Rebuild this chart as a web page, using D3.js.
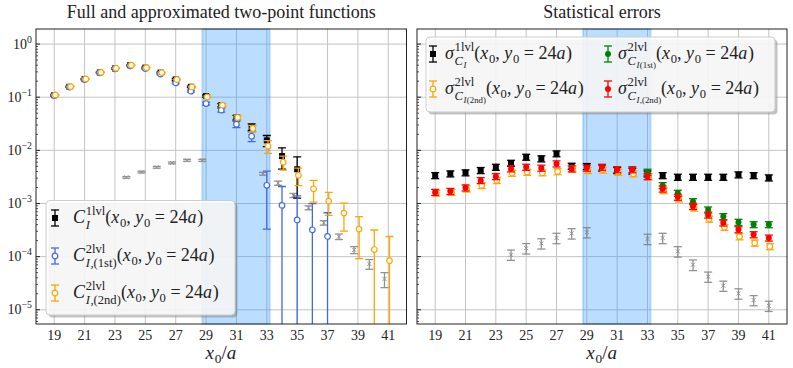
<!DOCTYPE html>
<html>
<head>
<meta charset="utf-8">
<script src="https://cdn.jsdelivr.net/npm/d3@7"></script>
<style>
body{margin:0;background:#fff;}
text{font-family:"Liberation Serif","DejaVu Serif",serif;fill:#222;white-space:pre;}
</style>
</head>
<body>
<script>
//x0/a values
var xs = [19,20,21,22,23,24,25,26,27,28,29,30,31,32,33,34,35,36,37,38,39,40,41];
var xTicks = [19,21,23,25,27,29,31,33,35,37,39,41];
var yTicks = [1e-5,1e-4,1e-3,1e-2,1e-1,1];
var yTickExp = ["\u22125","\u22124","\u22123","\u22122","\u22121","0"];
var band = [28.75, 33.2];

//left panel: full and approximated two-point functions
var c1lvl = [0.109,0.157,0.219,0.292,0.348,0.40,0.36,0.29,0.216,0.157,0.105,0.0707,0.0414,0.0275,0.0154,0.0078,0.0044,null,null,null,null,null,null];
var c2lvl1st = [0.107,0.155,0.215,0.288,0.343,0.39,0.345,0.272,0.186,0.130,0.076,0.057,0.031,0.0184,0.0022,0.00092,0.00049,0.00032,0.00024,null,null,null,null];
var c2lvl1stErr = [0.003,0.0035,0.0038,0.0042,0.0048,0.0057,0.0072,0.007,0.0085,0.0055,0.005,0.0048,0.0043,0.0038,0.00187,0.00117,0.0009,0.00067,0.00043,null,null,null,null];
var c2lvl2nd = [0.11,0.158,0.22,0.293,0.35,0.40,0.36,0.29,0.215,0.156,0.101,0.0707,0.0414,0.0258,0.0120,0.0060,0.0034,0.00189,0.00111,0.00066,0.00033,0.000136,0.000084];
var cDiff = [null,null,null,null,null,3.1e-3,3.9e-3,4.8e-3,5.8e-3,6.5e-3,6.5e-3,null,null,null,3.63e-3,2.42e-3,1.42e-3,8.3e-4,4.33e-4,2.38e-4,1.34e-4,7.3e-5,3.8e-5];

//right panel: statistical errors (also the error bars of the left panel)
var sig1lvl = [3.37e-3,3.63e-3,3.8e-3,4.2e-3,4.84e-3,5.75e-3,7.48e-3,6.97e-3,8.66e-3,5.06e-3,4.99e-3,4.7e-3,4.2e-3,4.1e-3,3.63e-3,3.37e-3,3.14e-3,3.14e-3,3.14e-3,3.14e-3,3.48e-3,3.37e-3,3.05e-3];
var sig1lvlErr = [4.4e-4,4.7e-4,4.9e-4,5.5e-4,6.3e-4,7.5e-4,9.7e-4,9.1e-4,1.1e-3,6.6e-4,6.5e-4,6.1e-4,5.5e-4,5.3e-4,4.7e-4,4.4e-4,4.1e-4,4.1e-4,4.1e-4,4.1e-4,4.5e-4,4.4e-4,4.0e-4];
var sig2nd = [1.57e-3,1.63e-3,1.89e-3,2.19e-3,2.72e-3,3.73e-3,3.9e-3,3.8e-3,4.0e-3,4.5e-3,4.2e-3,4.3e-3,3.9e-3,3.63e-3,3.2e-3,1.76e-3,1.23e-3,8.3e-4,5.1e-4,3.57e-4,2.38e-4,1.81e-4,1.55e-4];
var sig2ndErr = [2.0e-4,2.1e-4,2.5e-4,2.8e-4,3.5e-4,4.8e-4,5.1e-4,4.9e-4,5.2e-4,5.9e-4,5.5e-4,5.6e-4,5.1e-4,4.7e-4,4.2e-4,2.3e-4,1.6e-4,1.1e-4,6.6e-5,4.6e-5,3.1e-5,2.4e-5,2.0e-5];
var sig1st = [null,null,null,null,null,null,null,null,null,null,null,null,null,null,3.9e-3,2.19e-3,1.57e-3,1.09e-3,7.6e-4,5.69e-4,4.45e-4,4.02e-4,4.02e-4];
var sig1stErr = [null,null,null,null,null,null,null,null,null,null,null,null,null,null,5.1e-4,2.8e-4,2.0e-4,1.4e-4,9.9e-5,7.4e-5,5.8e-5,5.2e-5,5.2e-5];
var sigI2nd = [1.63e-3,1.7e-3,1.98e-3,2.72e-3,3.23e-3,4.52e-3,4.84e-3,4.65e-3,5.6e-3,4.52e-3,4.65e-3,4.84e-3,4.35e-3,4.35e-3,3.23e-3,1.89e-3,1.32e-3,8.9e-4,6.1e-4,4.33e-4,3.23e-4,2.6e-4,2.25e-4];
var sigI2ndErr = [2.1e-4,2.2e-4,2.6e-4,3.5e-4,4.2e-4,5.9e-4,6.3e-4,6.0e-4,7.3e-4,5.9e-4,6.0e-4,6.3e-4,5.7e-4,5.7e-4,4.2e-4,2.5e-4,1.7e-4,1.2e-4,7.9e-5,5.6e-5,4.2e-5,3.4e-5,2.9e-5];
var sigDiff = [null,null,null,null,null,1.09e-4,1.44e-4,1.78e-4,2.25e-4,2.75e-4,2.88e-4,null,null,null,2.16e-4,2.25e-4,1.26e-4,7.06e-5,4.2e-5,2.84e-5,2.03e-5,1.52e-5,1.19e-5];
var sigDiffErr = [null,null,null,null,null,2.4e-5,3.2e-5,3.9e-5,5.0e-5,6.1e-5,6.3e-5,null,null,null,4.8e-5,5.0e-5,2.8e-5,1.6e-5,9.2e-6,6.2e-6,4.5e-6,3.3e-6,2.6e-6];

(function(){

    var width = 793, height = 368, plotTop = 29, plotBottom = 324;

    var svg = d3.select("body").append("svg")
        .attr("width", width)
        .attr("height", height)
        .attr("font-family", "'Liberation Serif', 'DejaVu Serif', serif");

    //math text helpers: italic / roman pieces, sup/sub pairs
    function I(t){ return {t:t, i:true}; }
    function R(t){ return {t:t}; }
    function SS(sup, sub){ return {sup:sup, sub:sub}; }

    function mathText(g, x, y, parts, size){
        parts.forEach(function(p){
            if (p.sup || p.sub){
                var both = p.sup && p.sub;
                var w1 = p.sup ? mathText(g, x, y - size*(both ? 0.45 : 0.42), p.sup, size*0.7) - x : 0;
                var w2 = p.sub ? mathText(g, x, y + size*(both ? 0.32 : 0.22), p.sub, size*0.7) - x : 0;
                x += Math.max(w1, w2);
            } else {
                var t = g.append("text")
                    .attr("x", x)
                    .attr("y", y)
                    .attr("font-size", size)
                    .style("font-style", p.i ? "italic" : "normal")
                    .text(p.t);
                x += t.node().getComputedTextLength() + (p.i ? size*0.04 : 0);
            }
        });
        return x;
    }

    var tail = [R("("), I("x"), SS(null,[R("0")]), R(", "), I("y"), SS(null,[R("0")]), R(" = 24"), I("a"), R(")")];

    //set up one panel with grid, band and frame
    function makePanel(x0, x1, id, labels){
        var x = d3.scaleLinear().domain([17.8, 42.2]).range([x0, x1]);
        var y = d3.scaleLog().domain([5.4e-6, 1.92]).range([plotBottom, plotTop]);
        var g = svg.append("g");

        svg.append("clipPath").attr("id", id)
            .append("rect").attr("x", x0).attr("y", plotTop).attr("width", x1 - x0).attr("height", plotBottom - plotTop);

        //grid
        g.selectAll(".vg").data(xTicks).enter().append("line")
            .attr("x1", function(d){ return x(d); }).attr("x2", function(d){ return x(d); })
            .attr("y1", plotTop).attr("y2", plotBottom)
            .attr("stroke", "#c4c4c4").attr("stroke-width", 1);
        g.selectAll(".hg").data(yTicks).enter().append("line")
            .attr("x1", x0).attr("x2", x1)
            .attr("y1", function(d){ return y(d); }).attr("y2", function(d){ return y(d); })
            .attr("stroke", "#c4c4c4").attr("stroke-width", 1);

        //fit window band
        g.append("rect")
            .attr("x", x(band[0])).attr("y", plotTop)
            .attr("width", x(band[1]) - x(band[0])).attr("height", plotBottom - plotTop)
            .attr("fill", "dodgerblue").attr("fill-opacity", 0.3)
            .attr("stroke", "dodgerblue").attr("stroke-opacity", 0.25).attr("stroke-width", 2);

        var plot = svg.append("g").attr("clip-path", "url(#" + id + ")");

        //y ticks (inward, major + minor)
        var minor = [];
        yTicks.forEach(function(d){
            for (var k=2; k<10; k++){ if (d*k < 1.92) minor.push(d*k); }
        });
        minor.push(9e-6, 8e-6, 7e-6, 6e-6);
        var ax = svg.append("g");
        ax.selectAll(".mt").data(yTicks).enter().append("line")
            .attr("x1", x0).attr("x2", x0 + 4)
            .attr("y1", function(d){ return y(d); }).attr("y2", function(d){ return y(d); })
            .attr("stroke", "#222");
        ax.selectAll(".nt").data(minor).enter().append("line")
            .attr("x1", x0).attr("x2", x0 + 2)
            .attr("y1", function(d){ return y(d); }).attr("y2", function(d){ return y(d); })
            .attr("stroke", "#222").attr("stroke-width", 0.8);

        //frame
        ax.append("rect")
            .attr("x", x0).attr("y", plotTop).attr("width", x1 - x0).attr("height", plotBottom - plotTop)
            .attr("fill", "none").attr("stroke", "#222").attr("stroke-width", 1);

        //x tick labels
        ax.selectAll(".xl").data(xTicks).enter().append("text")
            .attr("x", function(d){ return x(d); })
            .attr("y", plotBottom + 16)
            .attr("text-anchor", "middle")
            .attr("font-size", 14)
            .text(function(d){ return d; });

        //y tick labels
        if (labels){
            yTicks.forEach(function(d, i){
                var lg = ax.append("g");
                var w = mathText(lg, 0, 0, [R("10"), SS([R(yTickExp[i])], null)], 14);
                lg.attr("transform", "translate(" + (x0 - 4 - w) + "," + (y(d) + 4.5) + ")");
            });
        }

        //x axis label
        var xg = ax.append("g");
        var xw = mathText(xg, 0, 0, [I("x"), SS(null,[R("0")]), R("/"), I("a")], 19);
        xg.attr("transform", "translate(" + ((x0 + x1)/2 - xw/2) + "," + (plotBottom + 35) + ")");

        return {x:x, y:y, plot:plot};
    }

    //draw error bar series
    function errSeries(p, vals, errs, dx, color, marker, op){
        var pts = [];
        vals.forEach(function(v, i){
            if (v != null) pts.push({x:xs[i] + dx, v:v, e:errs[i] || 0});
        });
        var g = p.plot.append("g").attr("opacity", op || 1);
        var yB = plotBottom + 5;
        var sel = g.selectAll("g").data(pts).enter().append("g")
            .attr("transform", function(d){ return "translate(" + p.x(d.x) + ",0)"; });
        sel.append("line")
            .attr("y1", function(d){ return d.v - d.e > 0 ? p.y(d.v - d.e) : yB; })
            .attr("y2", function(d){ return p.y(d.v + d.e); })
            .attr("stroke", color).attr("stroke-width", 1.3);
        sel.append("line")
            .attr("x1", -4).attr("x2", 4)
            .attr("y1", function(d){ return p.y(d.v + d.e); })
            .attr("y2", function(d){ return p.y(d.v + d.e); })
            .attr("stroke", color).attr("stroke-width", 1.3);
        sel.filter(function(d){ return d.v - d.e > 0; }).append("line")
            .attr("x1", -4).attr("x2", 4)
            .attr("y1", function(d){ return p.y(d.v - d.e); })
            .attr("y2", function(d){ return p.y(d.v - d.e); })
            .attr("stroke", color).attr("stroke-width", 1.3);
        drawMarker(sel, function(d){ return p.y(d.v); }, color, marker);
    }

    function drawMarker(sel, yf, color, marker){
        if (marker == "s"){
            sel.append("rect")
                .attr("x", -3).attr("y", function(d){ return yf(d) - 3; })
                .attr("width", 6).attr("height", 6).attr("fill", color);
        } else if (marker == "o"){
            sel.append("circle").attr("cx", 0).attr("cy", yf).attr("r", 2.8)
                .attr("fill", "#fff").attr("stroke", color).attr("stroke-width", 1.2);
        } else if (marker == "O"){
            sel.append("circle").attr("cx", 0).attr("cy", yf).attr("r", 3)
                .attr("fill", color);
        } else if (marker == "x"){
            sel.append("path")
                .attr("d", function(d){ var c = yf(d); return "M-2," + (c-2) + "L2," + (c+2) + "M-2," + (c+2) + "L2," + (c-2); })
                .attr("stroke", color).attr("stroke-width", 1);
        }
    }

    //legend box with entries
    function legend(x, y, w, h, entries, size){
        svg.append("rect").attr("x", x + 2.5).attr("y", y + 2.5).attr("width", w).attr("height", h)
            .attr("rx", 4).attr("fill", "#777").attr("fill-opacity", 0.45);
        svg.append("rect").attr("x", x).attr("y", y).attr("width", w).attr("height", h)
            .attr("rx", 4).attr("fill", "#fff").attr("fill-opacity", 0.85)
            .attr("stroke", "#ccc").attr("stroke-width", 1);
        entries.forEach(function(e){
            var hg = svg.append("g").datum(e).attr("transform", "translate(" + e.hx + ",0)");
            hg.append("line").attr("y1", e.cy - 8).attr("y2", e.cy + 8).attr("stroke", e.color).attr("stroke-width", 1.3);
            hg.append("line").attr("x1", -4).attr("x2", 4).attr("y1", e.cy - 8).attr("y2", e.cy - 8).attr("stroke", e.color).attr("stroke-width", 1.3);
            hg.append("line").attr("x1", -4).attr("x2", 4).attr("y1", e.cy + 8).attr("y2", e.cy + 8).attr("stroke", e.color).attr("stroke-width", 1.3);
            drawMarker(hg, function(d){ return d.cy; }, e.color, e.marker);
            mathText(svg.append("g"), e.tx, e.cy + 5, e.label, size);
        });
    }

    //left panel
    var L = makePanel(36, 406.5, "clipL", true);
    errSeries(L, cDiff, sigDiff, -0.25, "#808080", "x", 0.85);
    errSeries(L, c1lvl, sig1lvl, 0, "#000", "s");
    errSeries(L, c2lvl1st, c2lvl1stErr, 0, "royalblue", "o");
    errSeries(L, c2lvl2nd, sig2nd, 0.08, "orange", "o");

    //right panel
    var Rp = makePanel(417, 787, "clipR", false);
    errSeries(Rp, sigDiff, sigDiffErr, 0, "#808080", "x", 0.85);
    errSeries(Rp, sig1lvl, sig1lvlErr, 0, "#000", "s");
    errSeries(Rp, sig2nd, sig2ndErr, 0.07, "orange", "o");
    errSeries(Rp, sig1st, sig1stErr, 0, "green", "O");
    errSeries(Rp, sigI2nd, sigI2ndErr, 0, "red", "O");

    //titles
    svg.append("text").attr("x", (36 + 406.5)/2).attr("y", 18).attr("text-anchor", "middle")
        .attr("font-size", 18).text("Full and approximated two-point functions");
    svg.append("text").attr("x", (417 + 787)/2).attr("y", 18).attr("text-anchor", "middle")
        .attr("font-size", 18).text("Statistical errors");

    //legends
    legend(46, 200.5, 189, 114.5, [
        {hx:55, tx:73, cy:218, color:"#000", marker:"s", label:[I("C"), SS([R("1lvl")],[I("I")])].concat(tail)},
        {hx:55, tx:73, cy:256, color:"royalblue", marker:"o", label:[I("C"), SS([R("2lvl")],[I("I"), R(",(1st)")])].concat(tail)},
        {hx:55, tx:73, cy:293, color:"orange", marker:"o", label:[I("C"), SS([R("2lvl")],[I("I"), R(",(2nd)")])].concat(tail)}
    ], 18);

    legend(426, 37, 349, 75, [
        {hx:433, tx:445, cy:54, color:"#000", marker:"s", label:[I("\u03c3"), SS([R("1lvl")],[I("C"), SS(null,[I("I")])])].concat(tail)},
        {hx:433, tx:445, cy:89, color:"orange", marker:"o", label:[I("\u03c3"), SS([R("2lvl")],[I("C"), SS(null,[I("I"), R("(2nd)")])])].concat(tail)},
        {hx:608, tx:618, cy:54, color:"green", marker:"O", label:[I("\u03c3"), SS([R("2lvl")],[I("C"), SS(null,[I("I"), R("(1st)")])])].concat(tail)},
        {hx:608, tx:618, cy:89, color:"red", marker:"O", label:[I("\u03c3"), SS([R("2lvl")],[I("C"), SS(null,[I("I"), R(",(2nd)")])])].concat(tail)}
    ], 18);
})();
</script>
</body>
</html>
